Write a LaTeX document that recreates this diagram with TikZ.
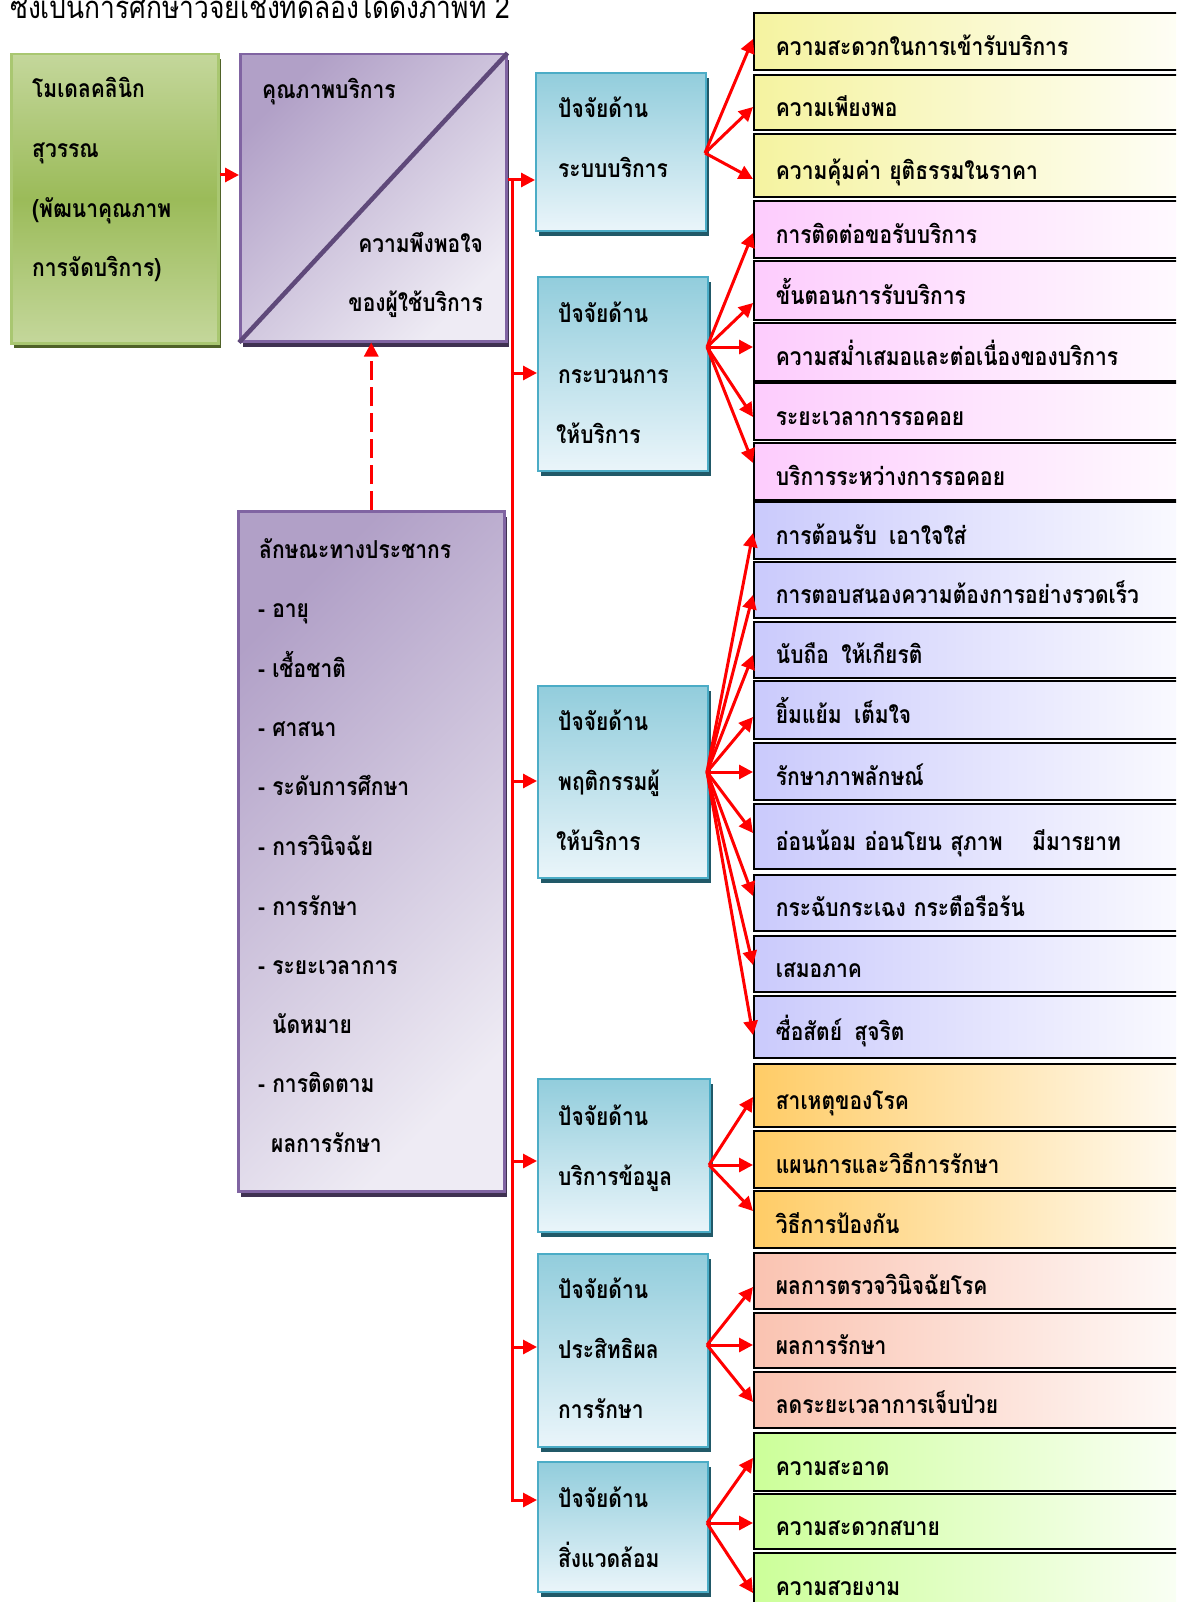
\documentclass[tikz,border=0pt]{standalone}
\usepackage{fontspec}
\newfontfamily\thaifont[Script=Thai, FakeStretch=0.85]{Loma}
\usetikzlibrary{arrows.meta,shadows}
\definecolor{grnTop}{HTML}{C4D79B}
\definecolor{grnMid}{HTML}{9BBB59}
\definecolor{grnEdge}{HTML}{A9C771}
\definecolor{grnShadow}{HTML}{4F6228}
\definecolor{purDark}{HTML}{B1A0C7}
\definecolor{purLight}{HTML}{EEEBF4}
\definecolor{purEdge}{HTML}{8064A2}
\definecolor{purShadow}{HTML}{3F3151}
\definecolor{purLine}{HTML}{5F497A}
\definecolor{bluTop}{HTML}{92CDDC}
\definecolor{bluBot}{HTML}{EAF5FA}
\definecolor{bluEdge}{HTML}{4BACC6}
\definecolor{bluShadow}{HTML}{215968}
\definecolor{yelC}{HTML}{F5F3A0}
\definecolor{pnkC}{HTML}{FDCCFD}
\definecolor{lavC}{HTML}{CACAFC}
\definecolor{orgC}{HTML}{FFCC66}
\definecolor{salC}{HTML}{FAC3B1}
\definecolor{lgrC}{HTML}{CCFF99}
\tikzset{
  boxfont/.style={font=\thaifont\bfseries\fontsize{24.7}{28}\selectfont},
  txt/.style={boxfont, anchor=base west, inner sep=0pt},
  txte/.style={boxfont, anchor=base east, inner sep=0pt},
  rbox/.style={boxfont, draw=black, line width=1.8pt, anchor=north west,
    minimum width=450pt, text width=406pt, inner xsep=22pt, inner ysep=0pt,
    align=left, text height=28pt, text depth=0pt},
  grpY/.style={left color=yelC, right color=yelC!5!white},
  grpP/.style={left color=pnkC, right color=pnkC!5!white},
  grpL/.style={left color=lavC, right color=lavC!5!white},
  grpO/.style={left color=orgC, right color=orgC!5!white},
  grpS/.style={left color=salC, right color=salC!5!white},
  grpG/.style={left color=lgrC, right color=lgrC!5!white},
  bbox/.style={draw=bluEdge, line width=2pt, anchor=north west,
    top color=bluTop, bottom color=bluBot,
    general shadow={fill=bluShadow, shadow xshift=3pt, shadow yshift=-5pt}},
  pbox/.style={draw=purEdge, line width=2.5pt, anchor=north west,
    top color=purDark, bottom color=purLight, shading angle=45,
    general shadow={fill=purShadow, shadow xshift=3pt, shadow yshift=-6pt}},
  redl/.style={draw=red, line width=3pt},
  rarr/.style={redl, -{Triangle[length=14pt,width=14pt]}},
}
\begin{document}
\begin{tikzpicture}[x=1pt,y=-1pt]
\useasboundingbox (0,0) rectangle (1176,1602);
\fill[white] (0,0) rectangle (1176,1602);
\clip (0,0) rectangle (1176,1602);

% title line (cut at the top)
\node[font=\thaifont\fontsize{31}{34}\selectfont, anchor=base west, inner sep=0pt] (title) at (10,19) {ซึ่งเป็นการศึกษาวิจัยเชิงทดลองได้ดังภาพที่ 2};

% green box
\node[draw=grnEdge, line width=2.5pt, anchor=north west, minimum width=207pt, minimum height=289pt,
  top color=grnTop, bottom color=grnTop, middle color=grnMid,
  general shadow={fill=grnShadow, shadow xshift=3pt, shadow yshift=-5pt}] (g) at (10,53) {};
\node[txt] (g1) at (32,98) {โมเดลคลินิก};
\node[txt] (g2) at (32,158) {สุวรรณ};
\node[txt] (g3) at (32,218) {(พัฒนาคุณภาพ};
\node[txt] (g4) at (32,277) {การจัดบริการ)};

% purple top box
\node[pbox, minimum width=266pt, minimum height=287pt] (p1) at (239,53) {};
\draw[purLine, line width=4.5pt] (p1.south west) -- (p1.north east);
\node[txt] (q1) at (262,99) {คุณภาพบริการ};
\node[txte] (q2) at (483,253) {ความพึงพอใจ};
\node[txte] (q3) at (483,312) {ของผู้ใช้บริการ};

% lower purple box
\node[pbox, minimum width=266pt, minimum height=680pt] (p2) at (237,510) {};
\node[txt] (d1) at (259,558) {ลักษณะทางประชากร};
\node[txt] (d2) at (258,617) {- อายุ};
\node[txt] (d3) at (258,677) {- เชื้อชาติ};
\node[txt] (d4) at (258,736) {- ศาสนา};
\node[txt] (d5) at (258,795) {- ระดับการศึกษา};
\node[txt] (d6) at (258,855) {- การวินิจฉัย};
\node[txt] (d7) at (258,915) {- การรักษา};
\node[txt] (d8) at (258,974) {- ระยะเวลาการ};
\node[txt] (d9) at (272,1033) {นัดหมาย};
\node[txt] (d10) at (258,1092) {- การติดตาม};
\node[txt] (d11) at (271,1152) {ผลการรักษา};

% blue factor boxes
\node[bbox, minimum width=170pt, minimum height=158pt] (b1) at (535,72) {};
\node[bbox, minimum width=170pt, minimum height=194pt] (b2) at (537,276) {};
\node[bbox, minimum width=170pt, minimum height=192pt] (b3) at (537,685) {};
\node[bbox, minimum width=172pt, minimum height=153pt] (b4) at (537,1078) {};
\node[bbox, minimum width=170pt, minimum height=193pt] (b5) at (537,1253) {};
\node[bbox, minimum width=170pt, minimum height=130pt] (b6) at (537,1461) {};
\node[txt] (b1a) at (558,118) {ปัจจัยด้าน};
\node[txt] (b1b) at (558,178) {ระบบบริการ};
\node[txt] (b2a) at (558,323) {ปัจจัยด้าน};
\node[txt] (b2b) at (558,383) {กระบวนการ};
\node[txt] (b2c) at (556,443) {ให้บริการ};
\node[txt] (b3a) at (558,730) {ปัจจัยด้าน};
\node[txt] (b3b) at (558,790) {พฤติกรรมผู้};
\node[txt] (b3c) at (556,850) {ให้บริการ};
\node[txt] (b4a) at (558,1125) {ปัจจัยด้าน};
\node[txt] (b4b) at (558,1185) {บริการข้อมูล};
\node[txt] (b5a) at (558,1298) {ปัจจัยด้าน};
\node[txt] (b5b) at (558,1358) {ประสิทธิผล};
\node[txt] (b5c) at (558,1418) {การรักษา};
\node[txt] (b6a) at (558,1507) {ปัจจัยด้าน};
\node[txt] (b6b) at (558,1567) {สิ่งแวดล้อม};

% right boxes
\node[rbox, grpY, minimum height=57pt] (r1) at (753,12) {ความสะดวกในการเข้ารับบริการ};
\node[rbox, grpY, minimum height=55pt] (r2) at (753,74) {ความเพียงพอ};
\node[rbox, grpY, minimum height=63pt] (r3) at (753,133) {ความคุ้มค่า ยุติธรรมในราคา};
\node[rbox, grpP, minimum height=57pt] (r4) at (753,200) {การติดต่อขอรับบริการ};
\node[rbox, grpP, minimum height=59pt] (r5) at (753,260) {ขั้นตอนการรับบริการ};
\node[rbox, grpP, minimum height=58pt] (r6) at (753,322) {ความสม่ำเสมอและต่อเนื่องของบริการ};
\node[rbox, grpP, minimum height=57pt] (r7) at (753,382) {ระยะเวลาการรอคอย};
\node[rbox, grpP, minimum height=57pt] (r8) at (753,442) {บริการระหว่างการรอคอย};
\node[rbox, grpL, minimum height=57pt] (r9) at (753,501) {การต้อนรับ\hspace{0.5em}เอาใจใส่};
\node[rbox, grpL, minimum height=56pt] (r10) at (753,561) {การตอบสนองความต้องการอย่างรวดเร็ว};
\node[rbox, grpL, minimum height=56pt] (r11) at (753,621) {นับถือ\hspace{0.5em}ให้เกียรติ};
\node[rbox, grpL, minimum height=58pt] (r12) at (753,680) {ยิ้มแย้ม\hspace{0.5em}เต็มใจ};
\node[rbox, grpL, minimum height=57pt] (r13) at (753,742) {รักษาภาพลักษณ์};
\node[rbox, grpL, minimum height=65pt] (r14) at (753,803) {อ่อนน้อม อ่อนโยน สุภาพ\hspace{1.2em}มีมารยาท};
\node[rbox, grpL, minimum height=56pt] (r15) at (753,874) {กระฉับกระเฉง กระตือรือร้น};
\node[rbox, grpL, minimum height=56pt] (r16) at (753,935) {เสมอภาค};
\node[rbox, grpL, minimum height=62pt] (r17) at (753,995) {ซื่อสัตย์\hspace{0.5em}สุจริต};
\node[rbox, grpO, minimum height=63pt] (r18) at (753,1063) {สาเหตุของโรค};
\node[rbox, grpO, minimum height=57pt] (r19) at (753,1130) {แผนการและวิธีการรักษา};
\node[rbox, grpO, minimum height=57pt] (r20) at (753,1190) {วิธีการป้องกัน};
\node[rbox, grpS, minimum height=56pt] (r21) at (753,1252) {ผลการตรวจวินิจฉัยโรค};
\node[rbox, grpS, minimum height=55pt] (r22) at (753,1312) {ผลการรักษา};
\node[rbox, grpS, minimum height=56pt] (r23) at (753,1371) {ลดระยะเวลาการเจ็บป่วย};
\node[rbox, grpG, minimum height=58pt] (r24) at (753,1432) {ความสะอาด};
\node[rbox, grpG, minimum height=55pt] (r25) at (753,1493) {ความสะดวกสบาย};
\node[rbox, grpG, minimum height=60pt, text height=26pt] (r26) at (753,1552) {ความสวยงาม};

% green -> quality box
\draw[rarr] (g.east |- 0,175) -- (p1.west |- 0,175);
% dashed demographic arrow
\draw[rarr, dash pattern=on 19pt off 7pt] (p2.north) -- (p2.north |- p1.south);

% trunk
\coordinate (t1) at (512,180);
\coordinate (t2) at (512,373);
\coordinate (t3) at (512,781);
\coordinate (t4) at (512,1161);
\coordinate (t5) at (512,1347);
\coordinate (t6) at (512,1500);
\draw[rarr] (p1.east |- t1) -- (b1.west |- t1);
\draw[rarr] (t1) -- (t6) -- (b6.west |- t6);
\foreach \t/\b in {t2/b2, t3/b3, t4/b4, t5/b5}
  \draw[rarr] (\t) -- (\b.west |- \t);

% fan-out arrows
\coordinate (o1) at (705,153);
\coordinate (o2) at (707,347);
\coordinate (o3) at (707,772);
\coordinate (o4) at (709,1165);
\coordinate (o5) at (707,1345);
\coordinate (o6) at (707,1523);
\foreach \r/\y in {r1/39, r2/107, r3/179}
  \draw[rarr] (o1) -- (\r.west |- 0,\y);
\foreach \r/\y in {r4/233, r5/303, r6/347, r7/417, r8/463}
  \draw[rarr] (o2) -- (\r.west |- 0,\y);
\foreach \r/\y in {r9/533, r10/595, r11/655, r12/717, r13/772, r14/833, r15/896, r16/965, r17/1035}
  \draw[rarr] (o3) -- (\r.west |- 0,\y);
\foreach \r/\y in {r18/1097, r19/1165, r20/1211}
  \draw[rarr] (o4) -- (\r.west |- 0,\y);
\foreach \r/\y in {r21/1287, r22/1345, r23/1402}
  \draw[rarr] (o5) -- (\r.west |- 0,\y);
\foreach \r/\y in {r24/1458, r25/1523, r26/1593}
  \draw[rarr] (o6) -- (\r.west |- 0,\y);
\end{tikzpicture}
\end{document}
